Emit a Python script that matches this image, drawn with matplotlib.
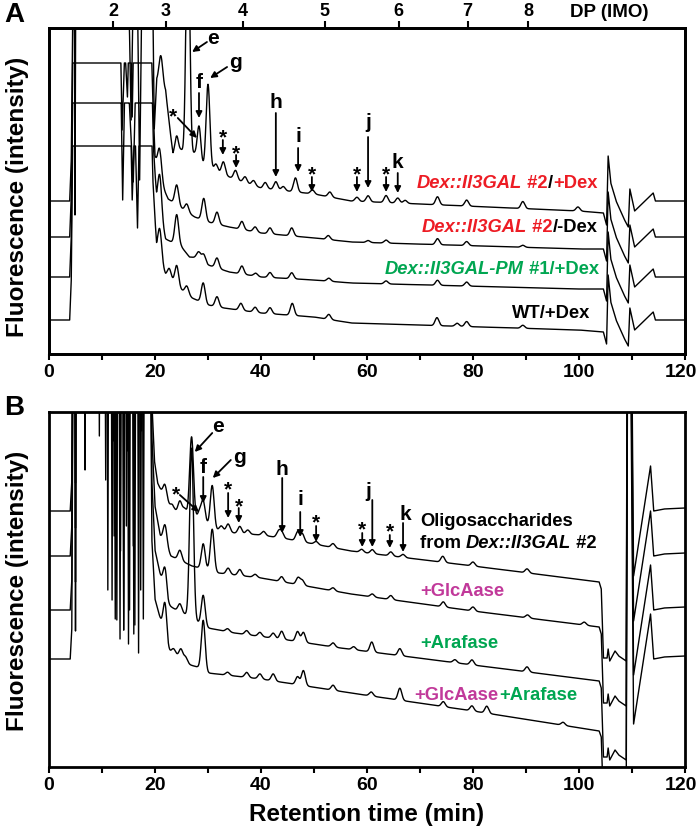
import numpy as np
import matplotlib
matplotlib.use("Agg")
import matplotlib.pyplot as plt
import matplotlib.transforms as mtransforms
from matplotlib.ticker import MultipleLocator

plt.rcParams["font.family"] = ["Liberation Sans", "DejaVu Sans"]
plt.rcParams["font.weight"] = "bold"

RED = "#ED1C24"
GREEN = "#00A651"
MAGENTA = "#C1399A"

# drawing grid (min) and common peak width
t = np.linspace(0, 120, 6001)
SIGMA = 0.36

# top axis of panel A: DP of isomalto-oligosaccharides
dp_pos = [12.1, 22.0, 36.6, 52.0, 66.0, 79.0, 90.4]
dp_labels = ["2", "3", "4", "5", "6", "7", "8"]

# ---------------- panel A (y in arbitrary units, axis 0..326)
a_offset = [153, 117, 77, 34]
a_sat = 174
a_tail_t = [104.6, 105.2, 105.5, 106.0, 107.0, 108.5, 109.3, 109.6, 110.5, 114.0, 114.4, 120.0]
a_tail_y = [-12, -24, 45, 18, 0, -18, -26, 12, -10, 8, 0, 0]

# Dex::Il3GAL #2 / +Dex
a1_kt = [0, 3.9, 4.2, 4.6, 4.75, 4.9, 5.05, 14.9, 15.5, 16.0, 16.6, 17.1, 17.6, 19.5, 19.85,
         20.3, 22.0, 23.4, 25.5, 27.5, 31.0, 33.0, 36.0, 40.0, 50.0, 57.0, 70.0, 100.0]
a1_ky = [0, 0, 40, 250, 250, -14, 250, 250, 81, 250, 250, 21, 250, 250, 71,
         120, 110, 45, 38, 36, 30, 26, 20, 13, 7, 0, -3, -10]
a1_pt = [21.1, 24.1, 25.0, 26.2, 27.4, 28.3, 30.0, 31.5, 32.9, 35.2, 37.0, 38.6, 40.8, 42.8,
         44.2, 46.5, 49.7, 53.0, 58.1, 60.2, 63.6, 65.8, 67.2, 73.3, 78.8, 89.4, 99.8]
a1_ph = [30, 22, 10, 250, 10, 40, 85, 8, 13, 9, 6, 5, 6, 8,
         4, 14, 4, 5, 4, 6, 7, 5, 3, 8, 6, 7, 4]

# Dex::Il3GAL #2 / -Dex
a2_kt = [0, 3.9, 4.2, 4.6, 13.3, 13.8, 14.3, 14.8, 15.3, 15.7, 16.1, 19.1, 19.5, 20.0, 21.0,
         22.5, 26.0, 27.5, 30.0, 34.0, 40.0, 50.0, 57.0, 100.0]
a2_ky = [0, 0, 40, 250, 250, 107, 190, 140, 250, 120, 250, 250, 150, 80, 55,
         38, 25, 20, 15, 10, 4, -1, -5, -12]
a2_pt = [20.9, 24.1, 26.0, 29.2, 31.7, 36.4, 38.9, 41.7, 45.8, 52.7, 60.2, 63.6, 73.3, 78.8, 89.4]
a2_ph = [30, 20, 8, 22, 12, 8, 5, 6, 8, 4, 2, 3, 6, 4, 2]

# Dex::Il3GAL-PM #1 / +Dex
a3_kt = [0, 3.9, 4.2, 4.6, 13.4, 13.9, 14.5, 15.1, 15.9, 16.6, 19.2, 19.7, 20.3, 22.0, 25.0,
         26.5, 28.5, 30.0, 34.0, 40.0, 50.0, 57.0, 100.0]
a3_ky = [0, 0, 40, 250, 250, 77, 250, 180, 95, 250, 250, 130, 75, 38, 30,
         20, 19, 12, 5, 0, -3, -6, -12]
a3_pt = [20.9, 24.1, 28.2, 29.2, 31.7, 36.4, 39.0, 41.7, 45.8, 52.8, 63.6, 73.3, 78.8]
a3_ph = [40, 30, 6, 7, 10, 8, 3, 5, 6, 3, 3, 5, 4]

# WT / +Dex
a4_kt = [0, 3.9, 4.2, 4.6, 15.2, 15.7, 16.2, 16.7, 17.2, 19.1, 19.6, 20.3, 22.0, 25.0, 27.0,
         30.0, 33.0, 40.0, 50.0, 57.0, 100.0]
a4_ky = [0, 0, 40, 250, 250, 120, 200, 92, 250, 250, 140, 70, 45, 30, 22,
         15, 12, 7, 3, -3, -10]
a4_pt = [20.9, 22.7, 24.1, 26.0, 29.1, 31.7, 36.2, 38.9, 41.7, 45.9, 52.8, 73.2, 77.0, 78.8, 89.4]
a4_ph = [30, 10, 20, 8, 20, 10, 7, 5, 6, 12, 5, 8, 3, 5, 3]

# ---------------- panel B (axis 0..355)
b_offset = [256, 211, 157, 108]
b_tail_t = [104.2, 104.6, 105.3, 105.5, 105.8, 106.8, 107.5, 108.9, 109.2, 109.6, 110.3,
            113.5, 114.1, 116.0, 120.0]
b_tail_y = [-78, -147, -147, -138, -150, -140, -145, -150, 400, 400, -65,
            45, 0, 2, 3]

# Oligosaccharides from Dex::Il3GAL #2
b1_kt = [0, 4.0, 4.3, 4.6, 4.85, 5.0, 5.15, 6.65, 6.8, 6.95, 10.4, 10.7, 11.0, 12.0, 12.2,
         12.4, 14.6, 14.8, 15.0, 17.3, 17.5, 17.7, 19.0, 19.4, 19.9, 20.5, 22.0, 23.5, 27.0,
         29.0, 31.5, 35.0, 40.0, 45.0, 57.0, 80.0, 103.8]
b1_ky = [0, 0, 30, 400, 400, 28, 400, 400, 41, 400, 400, 31, 400, 400, 70,
         400, 400, 60, 400, 400, 80, 400, 400, 110, 50, 28, 10, 0, -6,
         -10, -19, -22, -24, -28, -40, -55, -71]
b1_pt = [21.9, 23.3, 24.7, 25.6, 26.9, 28.4, 29.1, 30.8, 32.5, 33.8, 36.0, 37.5, 40.5, 43.3,
         43.9, 46.9, 47.8, 50.4, 53.6, 59.0, 61.0, 64.5, 66.8, 74.3, 80.0, 90.2]
b1_ph = [15, 5, 12, 6, 80, 8, 20, 42, 5, 8, 7, 4, 4, 6,
         6, 9, 8, 3, 4, 3, 4, 4, 3, 6, 4, 4]

# +GlcAase
b2_kt = [0, 4.0, 4.3, 4.6, 4.85, 5.0, 5.15, 9.3, 9.5, 9.7, 10.9, 11.1, 11.3, 12.1, 12.3,
         12.5, 13.3, 13.5, 13.7, 14.4, 14.6, 14.8, 15.7, 15.9, 16.1, 19.0, 19.4, 20.0, 21.0,
         23.0, 25.0, 27.0, 30.0, 32.0, 40.0, 57.0, 80.0, 103.8]
b2_ky = [0, 0, 30, 400, 400, 28, 400, 400, 120, 400, 400, -34, 400, 400, 20,
         400, 400, 5, 400, 400, 30, 400, 400, 10, 400, 400, 120, 50, 20,
         0, -5, -10, -14, -17, -22, -38, -55, -71]
b2_pt = [21.9, 24.7, 29.1, 30.8, 33.8, 36.0, 38.9, 43.9, 47.0, 47.8, 53.6, 61.0, 64.5, 74.4,
         80.0, 90.3, 101.0]
b2_ph = [20, 10, 25, 42, 6, 6, 3, 5, 7, 5, 3, 3, 4, 5, 4, 3, 3]

# +Arafase
b3_kt = [0, 4.0, 4.3, 4.6, 4.85, 5.0, 5.15, 11.7, 11.9, 12.1, 12.6, 12.8, 13.0, 13.9, 14.1,
         14.3, 15.0, 15.2, 15.4, 16.0, 16.2, 16.4, 17.1, 17.3, 17.5, 19.0, 19.4, 20.0, 21.0,
         22.5, 24.0, 26.0, 28.0, 30.0, 35.0, 45.0, 55.0, 80.0, 103.8]
b3_ky = [0, 0, 30, 400, 400, 28, 400, 400, 10, 400, 400, -10, 400, 400, -20,
         400, 400, 0, 400, 400, -15, 400, 400, 20, 400, 400, 130, 60, 35,
         5, 0, -5, -12, -18, -23, -30, -38, -55, -71]
b3_pt = [21.9, 24.7, 26.9, 29.1, 33.7, 37.3, 39.8, 42.3, 43.9, 46.9, 48.0, 53.6, 57.5, 60.9,
         66.2, 76.6, 79.8, 90.2]
b3_ph = [25, 8, 170, 30, 3, 4, 4, 5, 8, 10, 10, 4, 3, 10, 7, 3, 5, 5]

# +GlcAase+Arafase
b4_kt = [0, 4.0, 4.3, 4.6, 4.85, 5.0, 5.15, 12.3, 12.5, 12.7, 13.2, 13.4, 13.6, 13.9, 14.1,
         14.3, 14.8, 15.0, 15.2, 15.8, 16.0, 16.2, 16.7, 16.9, 17.1, 17.6, 17.8, 18.0, 19.0,
         19.4, 20.0, 21.0, 22.5, 24.0, 26.0, 28.0, 30.0, 35.0, 40.0, 57.0, 80.0, 103.8]
b4_ky = [0, 0, 30, 400, 400, 28, 400, 400, 40, 400, 400, 20, 400, 400, 29,
         400, 400, 15, 400, 400, 25, 400, 400, 6, 400, 400, 40, 400, 400,
         120, 60, 40, 8, 4, -5, -8, -14, -17, -20, -34, -52, -72]
b4_pt = [21.9, 23.5, 24.9, 25.8, 29.1, 33.7, 37.3, 39.8, 42.3, 46.9, 48.0, 53.6, 60.8, 66.2,
         74.4, 79.8, 82.6, 97.0]
b4_ph = [35, 5, 10, 6, 50, 3, 5, 5, 7, 8, 15, 5, 4, 12, 5, 5, 7, 3]


def build(kt, ky, pt, ph, sat=None):
    y = np.interp(t, kt, ky)
    for c, h in zip(pt, ph):
        y = y + h * np.exp(-0.5 * ((t - c) / SIGMA) ** 2)
    if sat is not None:
        y = np.minimum(y, sat)
    return y


def rich_text(ax, x, y, parts, size=13.2):
    r = ax.figure.canvas.get_renderer()
    dx = 0
    for s, color, style in parts:
        tr = mtransforms.offset_copy(ax.transData, fig=ax.figure, x=dx, y=0, units="dots")
        txt = ax.text(x, y, s, transform=tr, color=color, fontstyle=style,
                      fontsize=size, fontweight="bold", ha="left", va="center")
        dx += txt.get_window_extent(renderer=r).width


def mark(ax, label, tx, ty, x0, y0, x1, y1):
    ax.annotate("", xy=(x1, y1), xytext=(x0, y0),
                arrowprops=dict(arrowstyle="-|>", color="k", lw=1.3,
                                mutation_scale=9, shrinkA=0, shrinkB=0))
    if label == "*":
        ax.text(tx, ty - 5, label, ha="center", va="center", fontsize=15, fontweight="bold")
    else:
        ax.text(tx, ty, label, ha="center", va="center", fontsize=15, fontweight="bold")


def style_axes(ax, ymax):
    ax.set_xlim(0, 120)
    ax.set_ylim(0, ymax)
    ax.set_yticks([])
    ax.set_xticks(range(0, 121, 20))
    ax.xaxis.set_minor_locator(MultipleLocator(10))
    ax.tick_params(axis="x", which="both", direction="out", length=4, width=1.5,
                   labelsize=14, pad=3)
    for sp in ax.spines.values():
        sp.set_linewidth(2)
    # keep the last label inside the canvas
    last = ax.get_xticklabels()[-1]
    last.set_transform(last.get_transform() +
                       mtransforms.ScaledTranslation(-3 / 72, 0, ax.figure.dpi_scale_trans))


fig = plt.figure(figsize=(7, 8.39), dpi=100)
axA = fig.add_axes([49 / 700, 1 - 354 / 839, 636 / 700, 326 / 839])
axB = fig.add_axes([49 / 700, 1 - 767 / 839, 636 / 700, 355 / 839])

a_traces = [(a1_kt, a1_ky, a1_pt, a1_ph), (a2_kt, a2_ky, a2_pt, a2_ph),
            (a3_kt, a3_ky, a3_pt, a3_ph), (a4_kt, a4_ky, a4_pt, a4_ph)]
for off, (kt, ky, pt, ph) in zip(a_offset, a_traces):
    y = build(kt + a_tail_t, ky + a_tail_y, pt, ph, sat=a_sat)
    axA.plot(t, off + y, color="k", lw=1.0)

b_traces = [(b1_kt, b1_ky, b1_pt, b1_ph), (b2_kt, b2_ky, b2_pt, b2_ph),
            (b3_kt, b3_ky, b3_pt, b3_ph), (b4_kt, b4_ky, b4_pt, b4_ph)]
for off, (kt, ky, pt, ph) in zip(b_offset, b_traces):
    y = build(kt + b_tail_t, ky + b_tail_y, pt, ph)
    axB.plot(t, off + y, color="k", lw=1.0)

style_axes(axA, 326)
style_axes(axB, 355)

# DP scale on top of panel A
axT = axA.twiny()
axT.set_xlim(0, 120)
axT.set_xticks(dp_pos)
axT.set_xticklabels(dp_labels)
axT.tick_params(axis="x", direction="out", length=5, width=1.5, labelsize=13, pad=1)
for sp in axT.spines.values():
    sp.set_linewidth(2)
axA.text(105.8, 1.049, "DP (IMO)", transform=axA.get_xaxis_transform(),
         ha="center", va="center", fontsize=13.5, fontweight="bold")

# peak marks, panel A
mark(axA, "e", 30.9, 316, 29.8, 312, 27.0, 302)
mark(axA, "f", 28.3, 272, 28.3, 261, 28.3, 236)
mark(axA, "g", 35.1, 291, 33.6, 287, 30.4, 276)
mark(axA, "*", 23.4, 242, 24.3, 236, 27.9, 216)
mark(axA, "*", 32.8, 221, 32.8, 214, 32.8, 199)
mark(axA, "*", 35.3, 205, 35.3, 199, 35.3, 186)
mark(axA, "h", 42.8, 252, 42.8, 241, 42.8, 177)
mark(axA, "i", 47.0, 217, 47.0, 206, 47.0, 182)
mark(axA, "*", 49.6, 184, 49.6, 177, 49.6, 162)
mark(axA, "*", 58.1, 184, 58.1, 177, 58.1, 162)
mark(axA, "j", 60.2, 232, 60.2, 217, 60.2, 166)
mark(axA, "*", 63.6, 184, 63.6, 177, 63.6, 162)
mark(axA, "k", 65.8, 192, 65.8, 181, 65.8, 161)

# peak marks, panel B
mark(axB, "e", 31.9, 340, 30.8, 334, 27.5, 315)
mark(axB, "f", 29.1, 299, 29.1, 290, 29.1, 264)
mark(axB, "g", 36.0, 309, 34.3, 307, 30.9, 289)
mark(axB, "*", 24.0, 277, 24.7, 272, 28.3, 255)
mark(axB, "*", 33.8, 282, 33.8, 274, 33.8, 249)
mark(axB, "*", 35.8, 265, 35.8, 259, 35.8, 244)
mark(axB, "h", 44.0, 297, 44.0, 289, 44.0, 234)
mark(axB, "i", 47.4, 267, 47.4, 255, 47.4, 230)
mark(axB, "*", 50.4, 249, 50.4, 241, 50.4, 225)
mark(axB, "*", 59.1, 242, 59.1, 234, 59.1, 220)
mark(axB, "j", 60.2, 275, 61.0, 267, 61.0, 220)
mark(axB, "*", 64.3, 240, 64.3, 232, 64.3, 219)
mark(axB, "k", 67.2, 252, 66.8, 244, 66.8, 215)

# sample labels
rich_text(axA, 69.4, 171, [("Dex::Il3GAL", RED, "italic"), (" #2", RED, "normal"),
                           ("/", "k", "normal"), ("+Dex", RED, "normal")])
rich_text(axA, 70.4, 127, [("Dex::Il3GAL", RED, "italic"), (" #2", RED, "normal"),
                           ("/-Dex", "k", "normal")])
rich_text(axA, 63.4, 84, [("Dex::Il3GAL-PM", GREEN, "italic"), (" #1/+Dex", GREEN, "normal")])
rich_text(axA, 87.4, 41, [("WT/+Dex", "k", "normal")])

rich_text(axB, 70.0, 245, [("Oligosaccharides", "k", "normal")])
rich_text(axB, 70.0, 224, [("from ", "k", "normal"), ("Dex::Il3GAL", "k", "italic"),
                           (" #2", "k", "normal")])
rich_text(axB, 70.0, 175, [("+GlcAase", MAGENTA, "normal")])
rich_text(axB, 70.0, 124, [("+Arafase", GREEN, "normal")])
rich_text(axB, 69.0, 72, [("+GlcAase", MAGENTA, "normal"), ("+Arafase", GREEN, "normal")])

# panel letters and axis titles
fig.text(14 / 700, 1 - 15 / 839, "A", fontsize=20, fontweight="bold", ha="center", va="center")
fig.text(14 / 700, 1 - 408 / 839, "B", fontsize=20, fontweight="bold", ha="center", va="center")
fig.text(18 / 700, 1 - 197 / 839, "Fluorescence (intensity)", rotation=90, fontsize=17.5,
         fontweight="bold", ha="center", va="center")
fig.text(18 / 700, 1 - 591 / 839, "Fluorescence (intensity)", rotation=90, fontsize=17.5,
         fontweight="bold", ha="center", va="center")
fig.text(367 / 700, 1 - 815 / 839, "Retention time (min)", fontsize=17.5,
         fontweight="bold", ha="center", va="center")

fig.savefig("out.png", dpi=100)
